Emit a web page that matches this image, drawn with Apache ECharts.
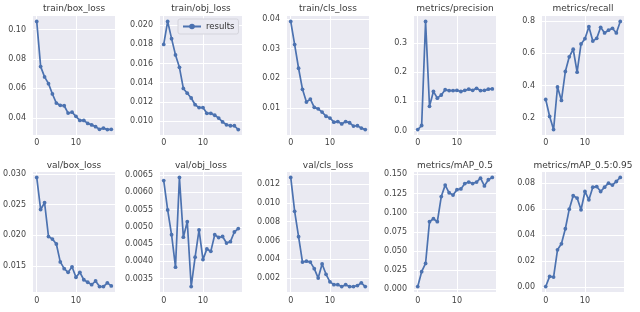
<!DOCTYPE html>
<html><head><meta charset="utf-8">
<script src="https://cdn.jsdelivr.net/npm/echarts@6/dist/echarts.min.js"></script>
<style>html,body{margin:0;padding:0;background:#fff}#c{width:640px;height:312px}</style>
</head><body><div id="c"></div>
<script>
const epochs = [0,1,2,3,4,5,6,7,8,9,10,11,12,13,14,15,16,17,18,19];
const titles = ['train/box_loss','train/obj_loss','train/cls_loss','metrics/precision','metrics/recall',
                'val/box_loss','val/obj_loss','val/cls_loss','metrics/mAP_0.5','metrics/mAP_0.5:0.95'];
const seriesName = 'results';

const trainBoxLoss = [0.1055,0.0748,0.0678,0.0632,0.0562,0.0500,0.0485,0.0482,0.0432,0.0438,0.0410,0.0382,0.0382,0.0362,0.0352,0.0340,0.0322,0.0330,0.0320,0.0322];
const trainObjLoss = [0.0180,0.0204,0.0186,0.0169,0.0156,0.0134,0.0129,0.0124,0.0117,0.0114,0.0114,0.0108,0.0108,0.0106,0.0103,0.0099,0.0096,0.0095,0.0095,0.0091];
const trainClsLoss = [0.0392,0.0314,0.0234,0.0163,0.0120,0.0130,0.0102,0.0097,0.0086,0.0072,0.0066,0.0052,0.0054,0.0046,0.0054,0.0050,0.0039,0.0040,0.0032,0.0027];
const precision    = [0.003,0.017,0.375,0.083,0.134,0.111,0.122,0.140,0.137,0.137,0.138,0.134,0.138,0.142,0.138,0.145,0.137,0.138,0.142,0.143];
const recall       = [0.312,0.206,0.124,0.390,0.306,0.487,0.579,0.626,0.483,0.659,0.692,0.767,0.677,0.694,0.763,0.728,0.745,0.757,0.728,0.800];
const valBoxLoss   = [0.0294,0.0242,0.0253,0.0198,0.0194,0.0186,0.0157,0.0146,0.0140,0.0149,0.0132,0.0140,0.0128,0.0124,0.0120,0.0126,0.0117,0.0117,0.0123,0.0118];
const valObjLoss   = [0.00634,0.00549,0.00477,0.00383,0.00643,0.00470,0.00515,0.00327,0.00412,0.00491,0.00405,0.00436,0.00429,0.00477,0.00469,0.00472,0.00453,0.00457,0.00485,0.00495];
const valClsLoss   = [0.0127,0.0091,0.0064,0.0037,0.0038,0.0037,0.0030,0.0020,0.0035,0.0024,0.0016,0.0013,0.0013,0.0011,0.0013,0.0011,0.0011,0.0012,0.0015,0.0011];
const mAP50        = [0.0035,0.0229,0.0337,0.0882,0.0921,0.0882,0.1210,0.1360,0.1260,0.1230,0.1300,0.1310,0.1380,0.1400,0.1380,0.1400,0.1450,0.1350,0.1430,0.1460];
const mAP5095      = [0.0004,0.0082,0.0077,0.0287,0.0333,0.0449,0.0600,0.0703,0.0685,0.0595,0.0736,0.0672,0.0769,0.0774,0.0736,0.0769,0.0800,0.0785,0.0813,0.0844];

const xTickLabels = ['0','10'];
const yTickLabels = [
  ['0.04','0.06','0.08','0.10'],
  ['0.010','0.012','0.014','0.016','0.018','0.020'],
  ['0.01','0.02','0.03','0.04'],
  ['0.0','0.1','0.2','0.3'],
  ['0.2','0.4','0.6','0.8'],
  ['0.015','0.020','0.025','0.030'],
  ['0.0035','0.0040','0.0045','0.0050','0.0055','0.0060','0.0065'],
  ['0.002','0.004','0.006','0.008','0.010','0.012'],
  ['0.000','0.025','0.050','0.075','0.100','0.125','0.150'],
  ['0.00','0.02','0.04','0.06','0.08']
];
const allSeries = [trainBoxLoss,trainObjLoss,trainClsLoss,precision,recall,valBoxLoss,valObjLoss,valClsLoss,mAP50,mAP5095];

const colLefts = [33,160,287,414,542];
const rowTops = [16,172];
const rowHeights = [119,120];
const xLabelMargins = [4,5];
const titleOffsets = [12,11];
const gw = 82;
const lineColor = '#4C72B0';
const font = 'DejaVu Sans';

const grids=[], xAxes=[], yAxes=[], series=[], title=[];
allSeries.forEach((vals, i) => {
  const r = Math.floor(i/5), c = i%5;
  const left = colLefts[c], top = rowTops[r], gh = rowHeights[r];
  grids.push({left, top, width: gw, height: gh, show: true, backgroundColor: '#EAEAF2', borderWidth: 0});
  const xmin = Math.min(...epochs), xmax = Math.max(...epochs), xm = (xmax-xmin)*0.05;
  const xVals = xTickLabels.map(Number);
  xAxes.push({type:'value', gridIndex:i, min:xmin-xm, max:xmax+xm,
    axisLine:{show:false}, axisTick:{show:false, customValues:xVals},
    axisLabel:{customValues:xVals, color:'#444', fontSize:8, fontFamily:font, margin:xLabelMargins[r]},
    splitLine:{show:true, lineStyle:{color:'#fff', width:1}}});
  const ymin = Math.min(...vals), ymax = Math.max(...vals), ym = (ymax-ymin)*0.05;
  const labs = yTickLabels[i];
  const dec = labs[0].split('.')[1].length;
  const yVals = labs.map(Number);
  yAxes.push({type:'value', gridIndex:i, min:ymin-ym, max:ymax+ym,
    axisLine:{show:false}, axisTick:{show:false, customValues:yVals},
    axisLabel:{customValues:yVals, formatter:v=>v.toFixed(dec), color:'#444', fontSize:8, fontFamily:font, margin:7},
    splitLine:{show:true, lineStyle:{color:'#fff', width:1}}});
  series.push({type:'line', name:seriesName, xAxisIndex:i, yAxisIndex:i,
    data: epochs.map((e,k)=>[e, vals[k]]),
    symbol:'circle', symbolSize:3.8, showSymbol:true,
    lineStyle:{color:lineColor, width:1.7}, itemStyle:{color:lineColor},
    animation:false, z:3});
  title.push({text: titles[i], left: left + gw/2, top: top - titleOffsets[r], textAlign:'center', padding:0,
    textStyle:{fontSize:9, fontWeight:'normal', color:'#3a3a3a', fontFamily:font}});
});

const chart = echarts.init(document.getElementById('c'), null, {renderer:'canvas'});
chart.setOption({
  animation:false,
  backgroundColor:'#fff',
  title,
  grid: grids, xAxis: xAxes, yAxis: yAxes, series,
  legend:{data:[seriesName], left:178, top:19, padding:[3,4,3,4], itemWidth:18, itemHeight:7, itemGap:4,
    backgroundColor:'#EAEAF2', borderColor:'#d4d4dc', borderWidth:1, borderRadius:2,
    textStyle:{fontSize:8.5, color:'#333', fontFamily:font}}
});
</script>
</body></html>
